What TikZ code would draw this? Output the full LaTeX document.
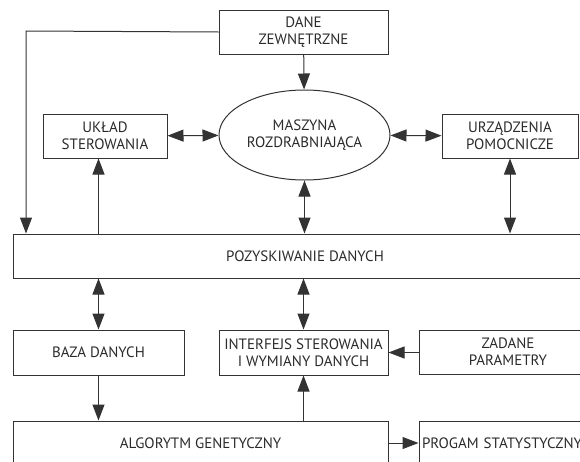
\documentclass[tikz,border=0pt]{standalone}
\usepackage{fontspec}
\setmainfont{PT Sans}
\usetikzlibrary{arrows.meta,shapes.geometric}
\definecolor{Ink}{HTML}{333333}
\definecolor{Label}{HTML}{2A2A2A}

\begin{document}
\begin{tikzpicture}[x=1pt,y=-1pt,
  every node/.style={font=\fontsize{15}{17}\selectfont,text=Label,align=center},
  box/.style={draw=Ink,line width=1pt,rectangle,inner sep=0pt},
  link/.style={draw=Ink,line width=1pt,-{Triangle[length=16pt,width=12pt]}},
  both/.style={draw=Ink,line width=1pt,{Triangle[length=16pt,width=12pt]}-{Triangle[length=16pt,width=12pt]}}]
\useasboundingbox (0,0) rectangle (580,461);
\clip (0,0) rectangle (580,461);
% top row
\node[box,minimum width=169pt,minimum height=44pt] (dane) at (303.5,32) {DANE\\ZEWNĘTRZNE};
\node[draw=Ink,line width=1pt,ellipse,minimum width=171pt,minimum height=90pt,inner sep=0pt] (maszyna) at (304.5,135) {MASZYNA\\ROZDRABNIAJĄCA};
\node[box,minimum width=124pt,minimum height=44pt] (uklad) at (105,136) {UKŁAD\\STEROWANIA};
\node[box,minimum width=136pt,minimum height=44pt] (urzadz) at (510,136) {URZĄDZENIA\\POMOCNICZE};
% middle bar
\node[box,minimum width=600pt,minimum height=44pt] (pozysk) at (313,256) {};
\node at (305,256) {POZYSKIWANIE DANYCH};
% lower rows
\node[box,minimum width=171pt,minimum height=45pt] (baza) at (98.5,352.5) {BAZA DANYCH};
\node[box,minimum width=169pt,minimum height=45pt] (interf) at (303.5,352.5) {INTERFEJS STEROWANIA\\I WYMIANY DANYCH};
\node[box,minimum width=178pt,minimum height=44pt] (zadane) at (508,352) {ZADANE\\PARAMETRY};
\node[box,minimum width=375pt,minimum height=44pt] (algor) at (200.5,443) {ALGORYTM GENETYCZNY};
\node[box,minimum width=180pt,minimum height=44pt,text width=174pt,align=left] (progam) at (509,443) {PROGAM STATYSTYCZNY};
% connectors
\coordinate (bend) at (26,31);
\draw[link] (dane.west) -- (bend) -- (bend |- pozysk.north);
\draw[link] (dane) -- (maszyna);
\draw[both] (uklad) -- (maszyna);
\draw[both] (maszyna) -- (urzadz);
\draw[link] (pozysk.north -| baza.north) -- (baza.north |- uklad.south);
\draw[both] (maszyna.south) -- (maszyna.south |- pozysk.north);
\draw[both] (urzadz.south) -- (urzadz.south |- pozysk.north);
\draw[both] (pozysk.south -| baza.north) -- (baza.north);
\draw[both] (pozysk.south -| interf.north) -- (interf.north);
\draw[link] (zadane.west |- interf.east) -- (interf.east);
\draw[link] (baza) -- (baza.south |- algor.north);
\draw[link] (algor.north -| interf.south) -- (interf.south);
\draw[link] (algor.east |- progam.west) -- (progam.west);
\end{tikzpicture}
\end{document}
